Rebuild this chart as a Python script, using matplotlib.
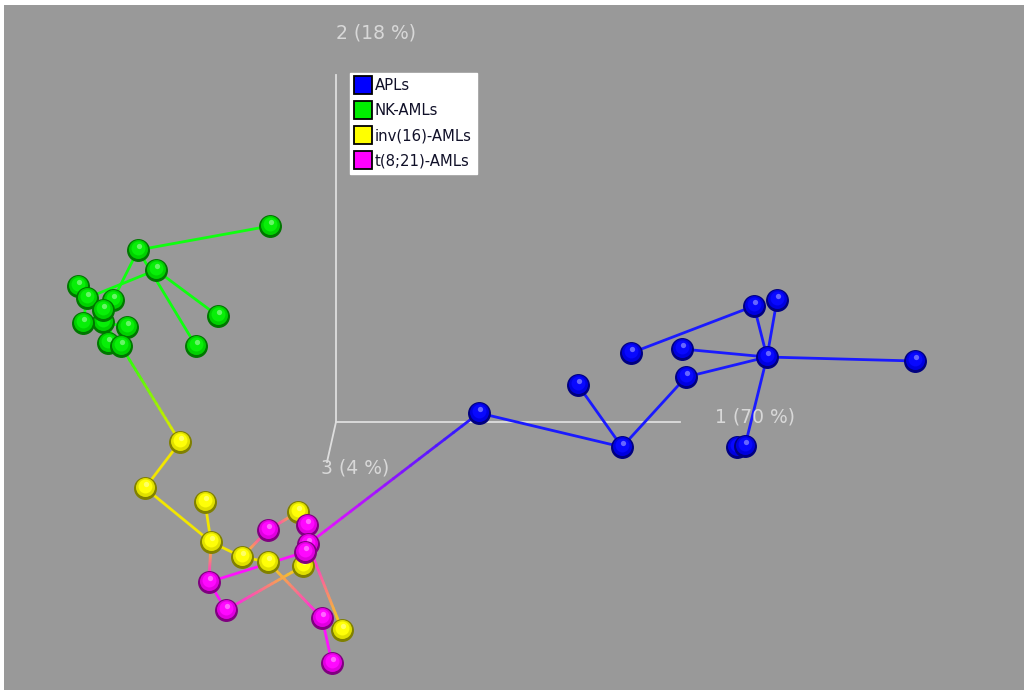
import numpy as np
import matplotlib
matplotlib.use('Agg')
import matplotlib.pyplot as plt
from matplotlib.collections import LineCollection
from matplotlib.lines import Line2D
from matplotlib.colors import to_rgb

# projected sample positions (screen units of the 3D PCA view)
apl_x = [754, 777, 631, 682, 767, 915, 686, 578, 622, 737, 745, 479]
apl_y = [306, 300, 353, 349, 357, 361, 377, 385, 447, 447, 446, 413]
nk_x = [270, 138, 156, 78, 87, 113, 103, 103, 83, 127, 218, 108, 121, 196]
nk_y = [226, 250, 270, 286, 298, 300, 322, 310, 323, 327, 316, 343, 346, 346]
inv16_x = [180, 145, 205, 211, 242, 268, 298, 303, 342]
inv16_y = [442, 488, 502, 542, 557, 562, 512, 566, 630]
t821_x = [268, 307, 308, 305, 209, 226, 322, 332]
t821_y = [530, 525, 544, 552, 582, 610, 618, 663]

groups = ['APLs', 'NK-AMLs', 'inv(16)-AMLs', 't(8;21)-AMLs']
group_colors = ['#0000ff', '#00ee00', '#ffff00', '#ff00ff']
line_colors = ['#1a1aff', '#10ff10', '#f2e600', '#ff10ff']

# minimum spanning tree edges (indices into the concatenated list)
edges = [(2, 0), (0, 4), (1, 4), (3, 4), (4, 5), (6, 4), (4, 10), (6, 8), (7, 8), (8, 11), (9, 10),
         (12, 13), (13, 17), (13, 25), (14, 22), (14, 16), (16, 20), (15, 16), (17, 19), (19, 18),
         (18, 21), (18, 24), (23, 24),
         (24, 26), (26, 27), (27, 29), (28, 29), (29, 30), (30, 31), (29, 39), (31, 41), (33, 40),
         (32, 35), (34, 37), (35, 30), (39, 38), (39, 40), (41, 42), (37, 11), (36, 37)]

axis_labels = ['1 (70 %)', '2 (18 %)', '3 (4 %)']

xs = np.array(apl_x + nk_x + inv16_x + t821_x, dtype=float)
ys = np.array(apl_y + nk_y + inv16_y + t821_y, dtype=float)
gid = np.array([0] * len(apl_x) + [1] * len(nk_x) + [2] * len(inv16_x) + [3] * len(t821_x))

fig = plt.figure(figsize=(10.24, 6.9), dpi=100)
fig.patch.set_facecolor('white')
ax = fig.add_axes([4 / 1024, 0, 1020 / 1024, 685 / 690])
ax.set_facecolor('#999999')
ax.set_xlim(4, 1024)
ax.set_ylim(690, 5)
ax.set_xticks([])
ax.set_yticks([])
for sp in ax.spines.values():
    sp.set_visible(False)

# coordinate axes of the 3D view
ox, oy = 336, 422
axc = '#dedede'
ax.plot([ox, 680], [oy, oy], color=axc, lw=1.3, zorder=1)
ax.plot([ox, ox], [oy, 75], color=axc, lw=1.3, zorder=1)
ax.plot([ox, 327], [oy, 462], color=axc, lw=1.3, zorder=1)
lab_kw = dict(color='#d8d8d8', fontsize=13.5, va='center', ha='left', zorder=5)
ax.text(715, 417, axis_labels[0], **lab_kw)
ax.text(336, 33, axis_labels[1], **lab_kw)
ax.text(321, 468, axis_labels[2], **lab_kw)

# edges, colour blended between the two end groups
segs, cols = [], []
for a, b in edges:
    ca = np.array(to_rgb(line_colors[gid[a]]))
    cb = np.array(to_rgb(line_colors[gid[b]]))
    n = 20 if gid[a] != gid[b] else 1
    t = np.linspace(0, 1, n + 1)
    px = xs[a] + (xs[b] - xs[a]) * t
    py = ys[a] + (ys[b] - ys[a]) * t
    for k in range(n):
        segs.append([(px[k], py[k]), (px[k + 1], py[k + 1])])
        cols.append(ca + (cb - ca) * (k + 0.5) / n)
ax.add_collection(LineCollection(segs, colors=cols, linewidths=2.0, zorder=2, capstyle='round'))

# shaded spheres
size = 240
for i in range(len(xs)):
    c = np.array(to_rgb(group_colors[gid[i]]))
    z = 3 + i * 0.01
    ax.scatter(xs[i], ys[i], s=size, color=c * 0.5, zorder=z)
    ax.scatter(xs[i] - 0.5, ys[i] - 0.7, s=size * 0.78, color=c * 0.88, zorder=z + 0.001, linewidths=0)
    ax.scatter(xs[i] - 0.5, ys[i] - 1.8, s=size * 0.42, color=c * 0.97 + 0.03, zorder=z + 0.002, linewidths=0)
    ax.scatter(xs[i] + 0.5, ys[i] - 4.2, s=size * 0.06, color=np.clip(c * 0.6 + 0.4, 0, 1), zorder=z + 0.003, linewidths=0)

handles = [Line2D([], [], marker='s', linestyle='none', markersize=12.5, markerfacecolor=col,
                  markeredgecolor='black', markeredgewidth=1.3) for col in group_colors]
leg = ax.legend(handles, groups, loc='upper left', bbox_to_anchor=(350 / 1024, 1 - 73 / 690),
                bbox_transform=fig.transFigure, frameon=True, fancybox=False, fontsize=10.7,
                handlelength=1.1, handletextpad=0.2, labelspacing=0.68, borderpad=0.35,
                borderaxespad=0, framealpha=1)
leg.get_frame().set_edgecolor('white')
leg.get_frame().set_facecolor('white')
for txt in leg.get_texts():
    txt.set_color('#101028')
leg.set_zorder(10)

fig.savefig('out.png', dpi=100)
